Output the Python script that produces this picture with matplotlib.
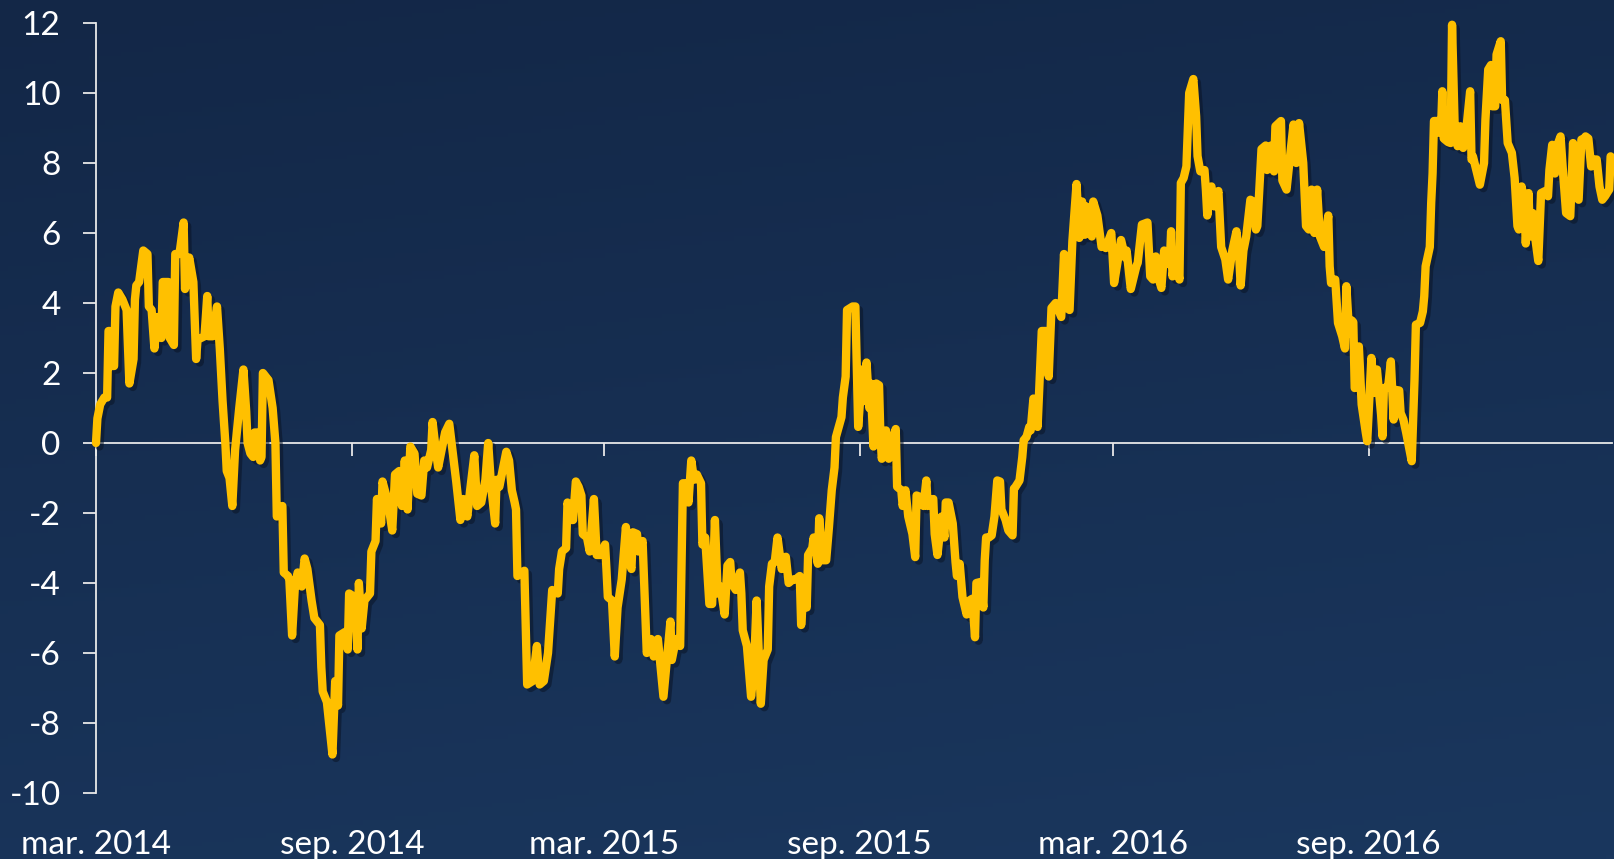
import numpy as np
import pandas as pd
import matplotlib
matplotlib.use("Agg")
import matplotlib.pyplot as plt
import matplotlib.dates as mdates
import matplotlib.patheffects as pe
import matplotlib.transforms as mtransforms

# series: days after 1 March 2014 and value
start = pd.Timestamp("2014-03-01")
day_offsets = [
    0, 1, 3, 6, 8, 9, 10, 11, 13, 14, 16, 19, 22, 24, 27, 28, 29, 31, 34, 37,
    38, 40, 42, 44, 47, 48, 52, 53, 56, 57, 60, 63, 64, 67, 70, 72, 73, 78, 80, 81,
    84, 87, 89, 91, 93, 94, 96, 98, 100, 103, 106, 108, 109, 111, 113, 114, 116, 118, 119, 120,
    124, 127, 129, 130, 132, 134, 135, 138, 139, 141, 143, 145, 148, 150, 152, 155, 157, 161, 162, 163,
    166, 170, 172, 174, 175, 179, 181, 182, 186, 188, 189, 191, 193, 197, 198, 201, 202, 205, 206, 210,
    213, 215, 218,
    220, 222, 224, 226, 229, 231, 234, 236, 238, 241, 242, 244, 246, 249, 251, 254, 256, 259, 262, 264,
    267, 269, 272, 274, 277, 280, 282, 284, 287, 288, 290, 295, 297, 299, 301, 302, 303, 308, 310, 314,
    317, 319, 322, 325, 328, 332, 333, 335, 338, 339, 342, 343, 345, 347, 349, 350, 353, 355, 358, 360,
    363, 366, 367, 368, 371, 373, 375, 378,
    381, 383, 385, 386, 389, 390, 393, 396, 399, 401, 404, 408, 413, 414, 417, 420, 422, 424, 426, 428,
    430, 432, 435, 436, 438, 441, 443, 445, 447, 449, 452, 454, 456, 457, 460, 463, 464, 465, 468, 471,
    473, 475, 478, 480, 483, 484, 486, 488, 490, 493, 496, 498, 501, 503, 506, 507, 509, 511, 512, 515,
    516, 519, 520, 522, 525, 527,
    529, 531, 532, 534, 536, 537, 539, 540, 544, 546, 548, 551, 552, 554, 556, 557, 559, 561, 563, 564,
    565, 568, 570, 572, 575, 576, 579, 580, 582, 584, 587, 589, 590, 593, 595, 597, 598, 602, 603, 605,
    608, 610, 611, 613, 616, 618, 619, 621, 623, 626, 628, 630, 632, 633, 636, 638, 639, 640, 642, 644,
    646, 648, 650, 651, 654, 656, 659, 660, 661, 664, 666, 667, 669, 671, 672, 674, 676, 677, 680, 683,
    685, 687, 690, 694, 696, 698, 700, 702, 705,
    707, 709, 711, 712, 716, 717, 720, 723, 725, 726, 730, 732, 734, 737, 740, 741, 744, 748, 749, 752,
    756, 758, 760, 762, 764, 766, 768, 770, 772, 773, 774, 776, 779, 780, 782, 784, 786, 789, 791, 792,
    794, 797, 798, 799, 801, 802, 804, 807, 809, 812, 814, 817, 820, 822, 823, 825, 827, 830, 832, 834,
    835, 838, 841, 842, 845, 847, 848, 852, 853, 856, 858, 861, 863,
    865, 868, 870, 872, 874, 876, 878, 880, 883, 886, 887, 888, 891, 893, 896, 898, 899, 901, 903, 904,
    905, 907, 908, 910, 913, 914, 917, 919, 921, 924, 925, 926, 929, 931, 933, 934, 937, 938, 940, 942,
    946, 948, 949, 952, 954, 955, 956, 959, 960, 961, 962, 965, 966, 967, 968, 969, 972, 974, 975, 977,
    979, 981, 982, 983, 985, 988, 989, 990, 993, 995, 998, 999, 1001, 1003, 1004, 1006, 1007, 1010, 1011, 1013,
    1015, 1017, 1018, 1020, 1022, 1023, 1025, 1027, 1028, 1030, 1031, 1033, 1035, 1037, 1039, 1042, 1044, 1045, 1047, 1049,
    1050, 1053, 1055, 1057, 1060, 1062, 1063, 1066, 1068, 1070, 1071, 1073, 1075, 1077, 1079, 1081, 1083, 1085, 1088, 1089,
]
values = [
    0.0, 0.7, 1.1, 1.3, 1.3, 3.2, 3.2, 2.2, 2.2, 3.9, 4.3, 4.1, 3.8, 1.7, 2.4, 4.1, 4.5, 4.6, 5.5, 5.4,
    3.9, 3.8, 2.7, 3.6, 3.0, 4.6, 4.6, 3.0, 2.8, 5.4, 5.4, 6.3, 4.4, 5.3, 4.6, 2.4, 2.95, 3.05, 4.2, 3.05,
    3.05, 3.9, 2.7, 1.2, 0.0, -0.8, -1.0, -1.8, -0.2, 1.0, 2.1, 0.9, 0.0, -0.3, -0.4, 0.3, 0.3, -0.5, -0.4, 2.0,
    1.8, 1.0, 0.0, -2.1, -1.9, -1.8, -3.7, -3.8, -3.9, -5.5, -4.1, -3.7, -4.1, -3.3, -3.6, -4.5, -5.0, -5.2, -6.4, -7.1,
    -7.4, -8.9, -6.8, -7.5, -5.5, -5.4, -5.9, -4.3, -4.4, -5.9, -4.0, -5.3, -4.5, -4.3, -3.1, -2.8, -1.6, -2.3, -1.1, -1.7,
    -2.5, -0.9, -0.8,
    -1.8, -0.5, -1.9, -0.1, -0.3, -1.45, -1.5, -0.5, -0.7, -0.2, 0.6, -0.1, -0.7, -0.1, 0.3, 0.55, -0.1, -1.1, -2.2, -1.6,
    -2.1, -1.35, -0.35, -1.8, -1.7, -1.05, 0.0, -1.2, -2.3, -1.05, -1.25, -0.25, -0.5, -1.35, -1.7, -1.9, -3.8, -3.65, -6.9, -6.8,
    -5.8, -6.9, -6.8, -6.0, -4.2, -4.3, -3.6, -3.1, -3.0, -1.7, -2.2, -2.2, -1.1, -1.25, -1.5, -2.6, -2.7, -3.1, -1.6, -3.2,
    -3.2, -2.9, -3.6, -4.4, -4.5, -6.1, -4.7, -3.9,
    -2.4, -3.35, -3.6, -2.55, -2.6, -3.1, -2.8, -6.0, -5.6, -6.1, -5.6, -7.25, -5.1, -6.2, -5.6, -5.8, -1.15, -1.15, -1.7, -0.5,
    -1.05, -0.9, -1.15, -2.9, -2.7, -4.6, -4.6, -2.2, -4.3, -4.1, -4.9, -3.5, -3.4, -4.0, -4.2, -3.7, -4.3, -5.35, -5.8, -7.25,
    -6.5, -4.5, -7.45, -6.2, -5.9, -4.1, -3.45, -3.4, -2.7, -3.6, -3.25, -4.0, -3.9, -3.9, -3.8, -5.2, -4.1, -4.7, -3.2, -3.0,
    -2.7, -3.45, -2.15, -3.35, -3.35, -2.4,
    -1.35, -0.7, 0.17, 0.46, 0.74, 1.3, 1.9, 3.8, 3.9, 3.9, 0.46, 2.1, 1.2, 2.3, 1.0, 1.7, -0.1, 1.7, 1.65, 0.2,
    -0.45, 0.36, -0.45, 0.0, 0.4, -1.25, -1.35, -1.8, -1.35, -2.1, -2.6, -3.26, -1.5, -1.55, -1.8, -1.07, -1.8, -1.6, -2.6, -3.2,
    -2.1, -2.7, -1.7, -1.7, -2.3, -3.4, -3.8, -3.45, -4.4, -4.9, -4.5, -4.45, -5.55, -4.0, -3.97, -4.7, -3.35, -2.7, -2.7, -2.64,
    -2.1, -1.07, -1.1, -1.9, -2.2, -2.5, -2.64, -1.3, -1.26, -1.07, -0.4, 0.08, 0.17, 0.46, 0.36, 1.27, 1.1, 0.46, 3.2, 3.2,
    1.9, 3.86, 4.0, 3.6, 5.4, 3.86, 3.8, 5.76, 7.4,
    5.86, 6.9, 5.95, 6.76, 5.9, 6.9, 6.5, 5.6, 5.7, 5.57, 6.0, 4.57, 5.05, 5.8, 5.3, 5.5, 4.4, 5.05, 5.15, 6.24,
    6.3, 4.76, 4.67, 5.33, 4.7, 4.43, 5.5, 5.14, 5.1, 6.05, 4.76, 5.3, 4.67, 7.43, 7.57, 7.9, 10.0, 10.4, 9.33, 8.2,
    7.76, 7.8, 7.24, 6.5, 7.3, 7.33, 6.76, 7.2, 5.6, 5.24, 4.67, 5.5, 6.05, 5.3, 4.5, 5.5, 5.9, 6.95, 6.9, 6.1,
    6.2, 8.4, 8.5, 7.8, 8.5, 7.76, 9.05, 9.2, 7.5, 7.24, 8.0, 9.1, 8.0,
    9.14, 8.0, 6.2, 6.1, 7.24, 6.0, 7.24, 5.9, 5.6, 6.5, 5.05, 4.57, 4.67, 3.43, 3.05, 2.7, 4.48, 3.14, 3.5, 3.45,
    1.57, 1.6, 2.76, 1.1, 0.29, 0.05, 2.43, 1.43, 2.1, 0.8, 0.19, 1.57, 1.6, 2.33, 0.67, 1.52, 1.5, 0.86, 0.67, 0.3,
    -0.52, 1.8, 3.38, 3.43, 3.76, 4.19, 5.05, 5.6, 6.86, 7.7, 9.2, 9.2, 8.86, 8.9, 10.05, 8.7, 8.6, 8.57, 11.95, 8.86,
    8.48, 9.05, 9.0, 8.43, 8.86, 10.05, 8.1, 8.19, 7.7, 7.38, 8.0, 9.24, 10.67, 10.8, 9.62, 9.62, 11.1, 11.48, 9.8, 9.8,
    8.57, 8.38, 8.29, 7.57, 6.2, 6.1, 7.33, 6.86, 5.7, 7.14, 5.9, 6.57, 5.8, 5.2, 7.14, 7.2, 7.05, 7.8, 8.52, 7.7,
    8.43, 8.76, 7.62, 6.57, 6.48, 8.57, 7.14, 6.95, 8.67, 8.7, 8.76, 8.7, 7.9, 8.1, 8.1, 7.33, 6.95, 7.05, 7.24, 8.19,
]
end_day = 1090

tick_dates = ["2014-03-01", "2014-09-01", "2015-03-01", "2015-09-01", "2016-03-01", "2016-09-01"]
tick_labels = ["mar. 2014", "sep. 2014", "mar. 2015", "sep. 2015", "mar. 2016", "sep. 2016"]
y_ticks = list(range(-10, 13, 2))

dates = start + pd.to_timedelta(day_offsets, unit="D")
font = ["Lato", "DejaVu Sans"]
W, H = 1614, 859

fig = plt.figure(figsize=(W / 100, H / 100), dpi=100)

# dark blue gradient background
bg = fig.add_axes([0, 0, 1, 1], zorder=0)
yy, xx = np.mgrid[0:1:200j, 0:1:200j]
grad = 0.8 * yy + 0.2 * xx
top = np.array([0x13, 0x27, 0x47]) / 255
bot = np.array([0x1a, 0x37, 0x5e]) / 255
bg.imshow(top + (bot - top) * grad[..., None], aspect="auto", extent=[0, 1, 0, 1], origin="upper")
bg.axis("off")

ax = fig.add_axes([96 / W, 1 - 793 / H, 1516 / W, 770 / H], zorder=1)
ax.patch.set_alpha(0)

ax.plot(dates, values, color="#FFC000", lw=6, solid_joinstyle="round", solid_capstyle="round",
        zorder=3, clip_on=False,
        path_effects=[pe.SimpleLineShadow(offset=(2.5, -2.5), shadow_color="#0a1426", alpha=0.55),
                      pe.Normal()])

ax.set_ylim(-10, 12)
ax.set_xlim(start, start + pd.Timedelta(days=end_day))

for s in ["top", "right"]:
    ax.spines[s].set_visible(False)
ax.spines["left"].set_color("#e8e8e8")
ax.spines["left"].set_linewidth(1.3)
ax.spines["bottom"].set_position(("data", 0))
ax.spines["bottom"].set_color("#e8e8e8")
ax.spines["bottom"].set_linewidth(1.3)

ax.set_yticks(y_ticks)
ax.set_yticklabels([str(v) for v in y_ticks], family=font, fontsize=24, color="white")
ax.tick_params(axis="y", length=9.5, width=1.3, color="#e8e8e8", pad=16)

tick_pos = [mdates.date2num(pd.Timestamp(d)) for d in tick_dates]
ax.set_xticks(tick_pos)
ax.set_xticklabels([""] * len(tick_pos))
ax.tick_params(axis="x", length=9, width=1.3, color="#e8e8e8", direction="out")

trans = mtransforms.blended_transform_factory(ax.transData, ax.transAxes)
for p, lab in zip(tick_pos, tick_labels):
    ax.text(p, -0.079, lab, transform=trans, ha="center", va="baseline",
            family=font, fontsize=24, color="white", clip_on=False)

fig.savefig("out.png", dpi=100)
